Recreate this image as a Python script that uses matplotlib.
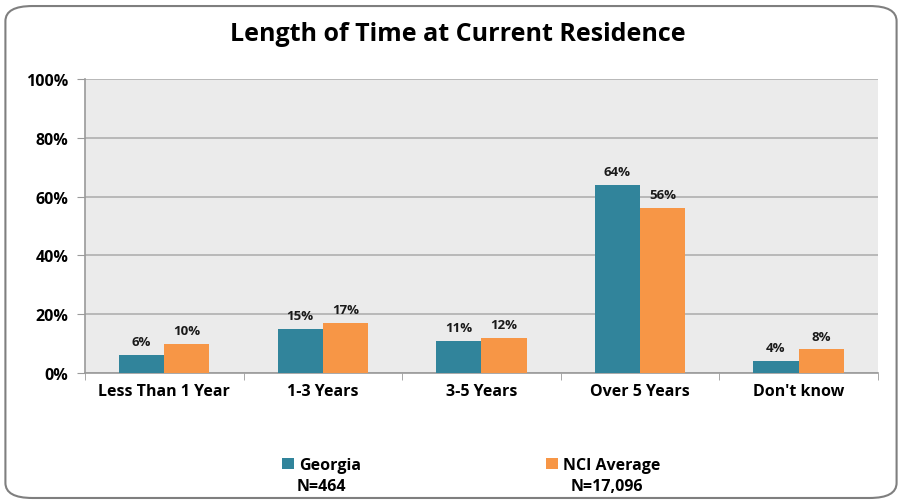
import matplotlib.pyplot as plt
from matplotlib.patches import FancyBboxPatch
import numpy as np

categories = ["Less Than 1 Year", "1-3 Years", "3-5 Years", "Over 5 Years", "Don't know"]
georgia = [6, 15, 11, 64, 4]
nci_avg = [10, 17, 12, 56, 8]
series_names = ["Georgia", "NCI Average"]
series_n = ["N=464", "N=17,096"]
yticks = [0, 20, 40, 60, 80, 100]

TEAL = '#31849B'
ORANGE = '#F79646'

plt.rcParams['font.family'] = ['Open Sans', 'DejaVu Sans']
plt.rcParams['font.weight'] = 'bold'

fig = plt.figure(figsize=(9.02, 5.02), dpi=100)

# rounded outer frame
frame = FancyBboxPatch((0.006, 0.006), 0.988, 0.98,
                       boxstyle="round,pad=0,rounding_size=0.03",
                       transform=fig.transFigure, facecolor='none',
                       edgecolor='#7f7f7f', linewidth=1.5, zorder=-1)
fig.patches.append(frame)

ax = fig.add_axes([0.0942, 0.255, 0.879, 0.5857])
ax.set_facecolor('#EBEBEB')

x = np.arange(len(categories))
w = 0.285
b1 = ax.bar(x - w / 2, georgia, w, color=TEAL, label=series_names[0], zorder=3)
b2 = ax.bar(x + w / 2, nci_avg, w, color=ORANGE, label=series_names[1], zorder=3)
for bars in (b1, b2):
    ax.bar_label(bars, labels=[f"{v:d}%" for v in bars.datavalues],
                 padding=5, fontsize=9.5, fontweight='bold', color='#1a1a1a')

ax.set_xlim(-0.5, len(categories) - 0.5)
ax.set_ylim(0, 100)
ax.set_yticks(yticks)
ax.set_yticklabels([f"{t}%" for t in yticks], fontsize=11.5, fontweight='bold')
ax.yaxis.grid(True, color='#b0b0b0', linewidth=1.2, zorder=0)
ax.set_axisbelow(True)

ax.set_xticks(x)
ax.set_xticklabels(categories, fontsize=11.5, fontweight='bold')
ax.tick_params(axis='x', length=0, pad=7)
ax.set_xticks(np.arange(len(categories) + 1) - 0.5, minor=True)
ax.tick_params(axis='x', which='minor', length=5, color='#9a9a9a')
ax.tick_params(axis='y', length=6, color='#9a9a9a', pad=6)

for s in ('top', 'right'):
    ax.spines[s].set_visible(False)
for s in ('left', 'bottom'):
    ax.spines[s].set_color('#9a9a9a')
    ax.spines[s].set_linewidth(1.2)

fig.text(0.507, 0.932, "Length of Time at Current Residence",
         ha='center', va='center', fontsize=18, fontweight='bold')

leg = fig.legend(handles=[b1, b2], loc='center left',
                 bbox_to_anchor=(0.313, 0.072), ncol=2, frameon=False,
                 handlelength=0.7, handleheight=0.7, handletextpad=0.35,
                 columnspacing=11.6, prop={'size': 11.5, 'weight': 'bold'},
                 borderaxespad=0, borderpad=0)
fig.text(0.356, 0.030, series_n[0], ha='center', va='center',
         fontsize=11.5, fontweight='bold')
fig.text(0.673, 0.030, series_n[1], ha='center', va='center',
         fontsize=11.5, fontweight='bold')

fig.savefig('out.png', dpi=100)
